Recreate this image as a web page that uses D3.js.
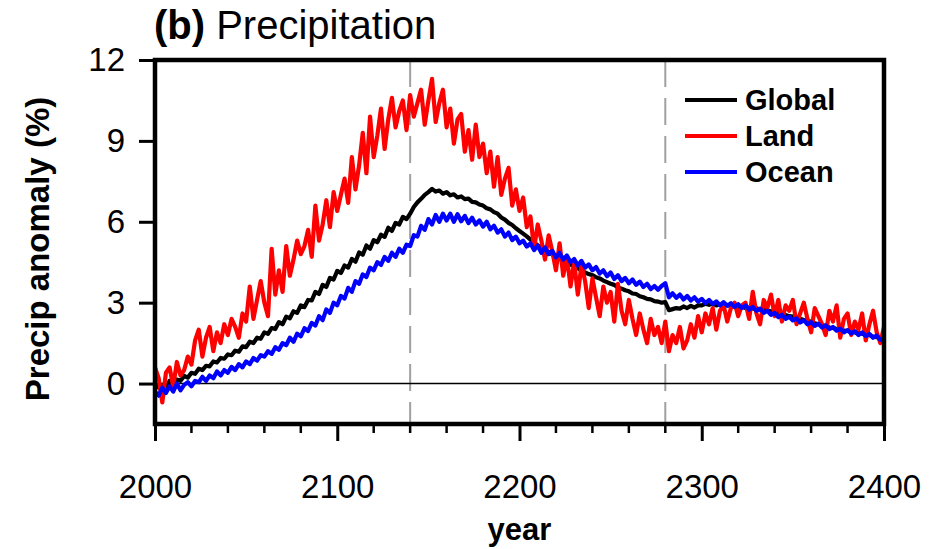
<!DOCTYPE html>
<html>
<head>
<meta charset="utf-8">
<script src="https://cdn.jsdelivr.net/npm/d3@7"></script>
<style>
  html, body { margin: 0; padding: 0; background: #fff; }
  svg { display: block; font-family: "Liberation Sans", Arial, Helvetica, sans-serif; }
</style>
</head>
<body>
<svg id="chart" width="930" height="549"></svg>
<script>
// Precipitation anomaly (%) relative to the start of the run, sampled every 2 years.
const startYear = 2000, stepYears = 2;
const landValues = [
  0.6, 0.2, -0.7, 0.4, 0.6, -0.1, 0.8, 0.3, 0.5, 1.0,
  0.7, 1.6, 2.0, 1.0, 1.7, 2.1, 1.2, 1.9, 1.5, 2.2,
  1.8, 2.4, 2.1, 1.7, 2.6, 2.3, 3.6, 2.4, 3.1, 3.8,
  3.0, 2.5, 5.0, 3.3, 4.2, 3.4, 5.1, 4.0, 4.6, 5.3,
  4.8, 5.1, 5.7, 4.7, 6.6, 5.3, 5.9, 6.8, 5.8, 7.1,
  6.4, 7.0, 7.6, 6.7, 8.4, 7.2, 8.1, 9.3, 7.8, 9.9,
  8.4, 9.2, 10.2, 8.7, 9.8, 10.6, 9.5, 10.1, 10.5, 9.4,
  10.7, 9.9, 10.4, 10.9, 9.6, 10.5, 11.3, 9.7, 10.4, 10.9,
  9.5, 10.2, 8.9, 9.8, 10.0, 8.6, 9.4, 8.3, 9.6, 8.4,
  8.9, 7.8, 8.6, 7.3, 8.4, 7.0, 7.6, 8.0, 6.6, 7.2,
  6.4, 6.9, 5.8, 6.2, 5.0, 5.9, 5.3, 4.6, 5.5, 4.9,
  4.2, 5.2, 4.0, 4.7, 3.6, 4.5, 3.3, 4.4, 3.8, 2.8,
  3.9, 3.2, 2.5, 3.6, 3.0, 3.4, 2.3, 3.7, 2.7, 2.2,
  3.1, 2.4, 1.8, 2.6, 2.0, 1.5, 2.4, 1.8, 2.1, 1.5,
  2.3, 1.2, 1.8, 1.5, 2.1, 1.3, 1.6, 2.2, 1.7, 2.5,
  1.9, 2.6, 2.2, 2.8, 2.0, 2.7, 2.9, 2.3, 2.8, 3.0,
  2.5, 2.9, 3.0, 2.4, 3.4, 2.6, 2.2, 3.1, 2.8, 3.3,
  2.5, 3.1, 2.3, 2.9, 2.7, 3.1, 2.2, 2.6, 3.0, 2.4,
  1.9, 2.8, 2.5, 2.2, 1.8, 2.7, 2.3, 2.9, 1.7, 2.4,
  2.6, 1.8, 2.3, 2.0, 2.6, 1.6, 2.2, 2.7, 1.9, 1.5,
  2.1
];
const globalValues = [
  0.0, -0.15, -0.05, -0.2, 0.1, 0.0, 0.15, 0.1, 0.28, 0.22,
  0.4, 0.36, 0.55, 0.5, 0.66, 0.64, 0.82, 0.78, 0.95, 0.92,
  1.08, 1.05, 1.22, 1.18, 1.38, 1.35, 1.55, 1.5, 1.7, 1.66,
  1.9, 1.84, 2.06, 2.02, 2.28, 2.2, 2.48, 2.42, 2.68, 2.62,
  2.9, 2.84, 3.1, 3.08, 3.4, 3.32, 3.66, 3.58, 3.92, 3.86,
  4.18, 4.1, 4.38, 4.3, 4.62, 4.52, 4.86, 4.78, 5.12, 5.0,
  5.32, 5.24, 5.52, 5.44, 5.78, 5.66, 5.96, 5.9, 6.18, 6.1,
  6.3, 6.55, 6.72, 6.85, 7.0, 7.1, 7.22, 7.12, 7.16, 7.04,
  7.1, 6.98, 7.02, 6.9, 6.94, 6.84, 6.86, 6.74, 6.72, 6.64,
  6.6, 6.5, 6.46, 6.36, 6.3, 6.16, 6.08, 5.96, 5.88, 5.76,
  5.66, 5.56, 5.46, 5.34, 5.24, 5.12, 5.02, 4.94, 4.88, 4.78,
  4.72, 4.62, 4.58, 4.48, 4.42, 4.34, 4.28, 4.18, 4.12, 4.06,
  4.02, 3.94, 3.9, 3.82, 3.76, 3.7, 3.66, 3.56, 3.52, 3.46,
  3.42, 3.34, 3.32, 3.24, 3.2, 3.14, 3.12, 3.06, 3.04, 3.0,
  3.02, 2.72, 2.76, 2.8, 2.78, 2.86, 2.8, 2.88, 2.82, 2.9,
  2.9, 2.96, 2.92, 2.98, 2.9, 2.94, 2.88, 2.92, 2.86, 2.88,
  2.84, 2.86, 2.8, 2.82, 2.78, 2.8, 2.74, 2.76, 2.7, 2.68,
  2.64, 2.62, 2.58, 2.54, 2.5, 2.48, 2.44, 2.4, 2.36, 2.32,
  2.3, 2.24, 2.2, 2.16, 2.14, 2.08, 2.06, 2.02, 2.0, 1.96,
  1.95, 1.92, 1.9, 1.86, 1.85, 1.8, 1.8, 1.74, 1.72, 1.68,
  1.65
];
const oceanValues = [
  -0.3, -0.45, -0.15, -0.35, -0.1, -0.3, 0.0, -0.25, -0.05, 0.05,
  -0.1, 0.1, 0.05, 0.25, 0.1, 0.3, 0.2, 0.45, 0.3, 0.5,
  0.4, 0.62, 0.5, 0.72, 0.6, 0.82, 0.72, 0.95, 0.85, 1.05,
  1.0, 1.2, 1.1, 1.35, 1.25, 1.5, 1.42, 1.7, 1.55, 1.85,
  1.75, 2.05, 1.95, 2.25, 2.15, 2.5, 2.35, 2.75, 2.62, 3.0,
  2.9, 3.25, 3.15, 3.55, 3.4, 3.8, 3.7, 4.05, 3.95, 4.3,
  4.2, 4.5, 4.4, 4.7, 4.55, 4.85, 4.7, 5.0, 4.85, 5.15,
  5.1, 5.5, 5.45, 5.85, 5.7, 6.1, 5.9, 6.25, 6.0, 6.3,
  6.05, 6.3, 6.0, 6.28, 6.02, 6.22, 5.95, 6.15, 5.9, 6.05,
  5.82, 6.0, 5.72, 5.85, 5.6, 5.72, 5.45, 5.6, 5.32, 5.45,
  5.2, 5.3, 5.08, 5.2, 4.95, 5.12, 4.85, 5.05, 4.8, 4.92,
  4.68, 4.85, 4.6, 4.75, 4.5, 4.62, 4.38, 4.55, 4.3, 4.42,
  4.2, 4.32, 4.08, 4.2, 3.98, 4.12, 3.88, 4.02, 3.8, 3.92,
  3.72, 3.86, 3.66, 3.78, 3.58, 3.7, 3.5, 3.62, 3.48, 3.62,
  3.72, 3.2, 3.35, 3.18, 3.3, 3.12, 3.25, 3.08, 3.2, 3.04,
  3.14, 2.98, 3.1, 2.95, 3.05, 2.9, 3.02, 2.88, 2.98, 2.84,
  2.94, 2.8, 2.9, 2.74, 2.84, 2.7, 2.78, 2.62, 2.7, 2.55,
  2.62, 2.46, 2.55, 2.4, 2.48, 2.34, 2.42, 2.26, 2.35, 2.2,
  2.28, 2.14, 2.22, 2.08, 2.16, 2.02, 2.1, 1.96, 2.04, 1.9,
  1.98, 1.86, 1.94, 1.8, 1.9, 1.76, 1.84, 1.7, 1.78, 1.62,
  1.65
];

const seriesNames = ["Global", "Land", "Ocean"];
const seriesColors = ["#000000", "#ff0000", "#0000ff"];
const markerYears = [2140, 2280];
const xTickValues = [2000, 2100, 2200, 2300, 2400];
const yTickValues = [0, 3, 6, 9, 12];

const toPoints = vals => vals.map((v, i) => ({ year: startYear + i * stepYears, value: v }));
const series = [
  { name: seriesNames[0], color: seriesColors[0], points: toPoints(globalValues) },
  { name: seriesNames[1], color: seriesColors[1], points: toPoints(landValues) },
  { name: seriesNames[2], color: seriesColors[2], points: toPoints(oceanValues) }
];

const W = 930, H = 549;
const margin = { top: 60, right: 46, bottom: 125, left: 155 };
const iw = W - margin.left - margin.right;
const ih = H - margin.top - margin.bottom;

const svg = d3.select("#chart");
const g = svg.append("g").attr("transform", `translate(${margin.left},${margin.top})`);

const x = d3.scaleLinear().domain([2000, 2400]).range([0, iw]);
const y = d3.scaleLinear().domain([-1.5, 12]).range([ih, 0]);

svg.append("clipPath").attr("id", "plot-clip")
  .append("rect").attr("width", iw).attr("height", ih);

// dashed reference years
g.selectAll(".marker").data(markerYears).join("line")
  .attr("x1", d => x(d)).attr("x2", d => x(d))
  .attr("y1", 0).attr("y2", ih)
  .attr("stroke", "#a0a0a0").attr("stroke-width", 2)
  .attr("stroke-dasharray", "27,11");

// zero line
g.append("line")
  .attr("x1", 0).attr("x2", iw).attr("y1", y(0)).attr("y2", y(0))
  .attr("stroke", "#000").attr("stroke-width", 1.5);

const line = d3.line().x(d => x(d.year)).y(d => y(d.value));
g.append("g").attr("clip-path", "url(#plot-clip)")
  .selectAll("path").data(series).join("path")
  .attr("d", d => line(d.points))
  .attr("fill", "none")
  .attr("stroke", d => d.color)
  .attr("stroke-width", 4.2)
  .attr("stroke-linejoin", "round");

// x axis: major ticks every 100 years, minor every 20
const xMinor = d3.range(2000, 2401, 20).filter(v => !xTickValues.includes(v));
const xAxis = g.append("g").attr("transform", `translate(0,${ih})`);
xAxis.call(d3.axisBottom(x).tickValues(xTickValues).tickFormat(d3.format("d")).tickSize(17).tickPadding(34));
xAxis.selectAll("g.minor").data(xMinor).join("line")
  .attr("x1", d => x(d)).attr("x2", d => x(d)).attr("y1", 0).attr("y2", 9)
  .attr("stroke", "#000").attr("stroke-width", 2.5);
xAxis.select(".domain").remove();
xAxis.selectAll(".tick line").attr("stroke-width", 3);
xAxis.selectAll(".tick text").attr("font-size", 33).attr("fill", "#000");

// y axis
const yAxis = g.append("g");
yAxis.call(d3.axisLeft(y).tickValues(yTickValues).tickSize(16).tickPadding(14));
yAxis.select(".domain").remove();
yAxis.selectAll(".tick line").attr("stroke-width", 3);
yAxis.selectAll(".tick text").attr("font-size", 33).attr("fill", "#000");

// frame
g.append("rect").attr("width", iw).attr("height", ih)
  .attr("fill", "none").attr("stroke", "#000").attr("stroke-width", 4.5);

// titles
svg.append("text").attr("x", 154).attr("y", 39).attr("font-size", 40)
  .call(t => {
    t.append("tspan").attr("font-weight", "bold").text("(b)");
    t.append("tspan").text(" Precipitation");
  });

svg.append("text")
  .attr("transform", "translate(49,249) rotate(-90)")
  .attr("text-anchor", "middle").attr("font-weight", "bold").attr("font-size", 33)
  .text("Precip anomaly (%)");

svg.append("text").attr("x", margin.left + x(2200)).attr("y", 540)
  .attr("text-anchor", "middle").attr("font-weight", "bold").attr("font-size", 31)
  .text("year");

// legend
const legend = svg.append("g").attr("transform", "translate(685,100)");
const row = legend.selectAll("g").data(series).join("g")
  .attr("transform", (d, i) => `translate(0,${i * 36})`);
row.append("line").attr("x1", 0).attr("x2", 52).attr("y1", 0).attr("y2", 0)
  .attr("stroke", d => d.color).attr("stroke-width", 4);
row.append("text").attr("x", 60).attr("y", 10)
  .attr("font-weight", "bold").attr("font-size", 29).text(d => d.name);
</script>
</body>
</html>
